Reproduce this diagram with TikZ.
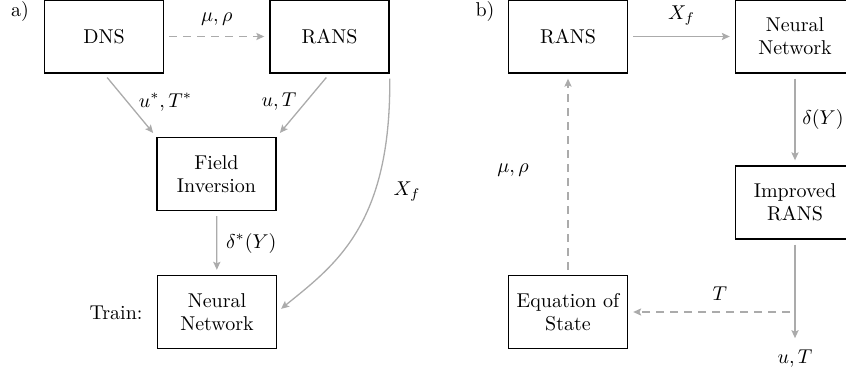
\documentclass[tikz,border=0pt]{standalone}
\usetikzlibrary{arrows.meta}
\tikzset{
  box/.style={draw,line width=0.7pt,minimum width=59.5pt,minimum height=36.5pt,
    inner sep=0pt,align=center},
  flow/.style={draw=black!33,line width=0.65pt,shorten >=2.5pt,shorten <=2.5pt,
    -{Stealth[length=4pt,width=3.6pt,inset=0.8pt]}},
  flowdash/.style={flow,dash pattern=on 4pt off 3pt}
}
\begin{document}
\begin{tikzpicture}[x=0.5pt,y=-0.5pt,font=\fontsize{10}{11.5}\selectfont]
  \useasboundingbox (0,0) rectangle (846,374);
  % a) training
  \node (labA) at (20,12) {a)};
  \node[box] (dnsA) at (104,36.5) {DNS};
  \node[box] (ransA) at (329.5,36.5) {RANS};
  \node[box] (fiA) at (216.5,174) {Field\\Inversion};
  \node[box] (nnA) at (217,312) {Neural\\Network};
  \node (trainA) at (116,313) {Train:};
  \draw[flowdash] (dnsA) -- node[above=2pt] {$\mu,\rho$} (ransA);
  \draw[flow] (dnsA.south) -- node[right=2pt,pos=0.45] {$u^{*},T^{*}$} (fiA.north west);
  \draw[flow] (ransA.south) -- node[left=1pt,pos=0.45] {$u,T$} (fiA.north east);
  \draw[flow] (fiA) -- node[right=1pt] {$\delta^{*}(Y)$} (nnA);
  \draw[flow] (ransA.south east) .. controls (391,225) and (335,265) .. (nnA.east)
    node[pos=0.33,right=6pt] {$X_f$};
  % b) prediction
  \node (labB) at (485,12) {b)};
  \node[box] (ransB) at (568,36.5) {RANS};
  \node[box] (nnB) at (795,36.5) {Neural\\Network};
  \node[box] (impB) at (795,202.5) {Improved\\RANS};
  \node[box] (eosB) at (568,312) {Equation of\\State};
  \node (utB) at (795,359) {$u,T$};
  \coordinate (tapB) at (795,312);
  \draw[flow] (ransB) -- node[above=2pt] {$X_f$} (nnB);
  \draw[flow] (nnB) -- node[right=0pt] {$\delta(Y)$} (impB);
  \draw[flow] (impB) -- (utB);
  \draw[flowdash] (tapB) -- node[above=2pt,pos=0.45] {$T$} (eosB);
  \draw[flowdash] (eosB) -- node[left=16pt,pos=0.52] {$\mu,\rho$} (ransB);
\end{tikzpicture}
\end{document}
